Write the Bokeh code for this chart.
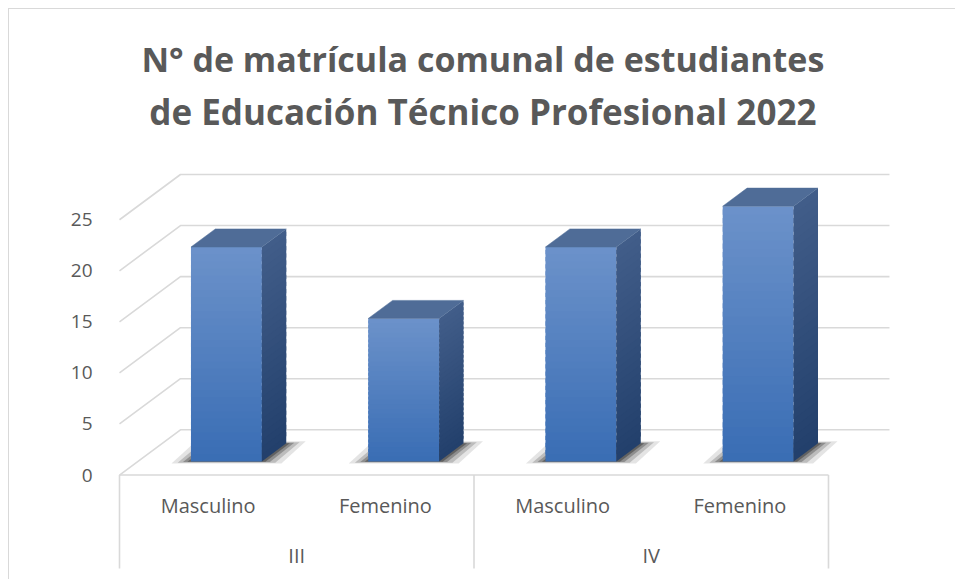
from bokeh.plotting import figure
from bokeh.models import FixedTicker
from bokeh.core.properties import value
from bokeh.embed import file_html
from bokeh.resources import INLINE

# ---------------- data ----------------
title_lines = ["N° de matrícula comunal de estudiantes",
               "de Educación Técnico Profesional 2022"]
groups = ["III", "IV"]
genders = ["Masculino", "Femenino", "Masculino", "Femenino"]
counts = [21, 14, 21, 25]
y_ticks = [0, 5, 10, 15, 20, 25]

# ---------------- style / geometry ----------------
FONT = "Open Sans"
TXT = "#595959"
GRID = "#d9d9d9"
DX, DY = 0.344, 4.43        # depth offset of the back wall (x in categories, y in values)
D0, D1 = 0.30, 0.70         # bar depth span (fraction of floor depth)
BAR_W = 0.40
N_STRIPS = 30

def lerp(c1, c2, t):
    return "#%02x%02x%02x" % tuple(int(round(a + (b - a) * t)) for a, b in zip(c1, c2))

FRONT_TOP, FRONT_BOT = (108, 146, 202), (57, 109, 180)
SIDE_TOP, SIDE_BOT = (66, 94, 138), (34, 63, 107)
TOP_FACE = "#4f6c97"

n_cat = len(counts)
p = figure(width=947, height=571, output_backend="svg", toolbar_location=None,
           x_range=(-0.0508, 4.4006), y_range=(-10.33, 45.59),
           x_axis_location=None, min_border_left=101, min_border_right=57,
           min_border_top=0, min_border_bottom=0)
p.outline_line_color = None
p.grid.visible = False
p.title.visible = False
p.background_fill_color = "white"
p.border_fill_color = "white"
p.styles = {"margin-left": "8px", "margin-top": "8px",
            "border-left": "1px solid #d9d9d9", "border-top": "1px solid #d9d9d9"}

# chart title (two centred lines above the plot area)
p.text(x=[2.05, 2.05], y=[40.7, 35.6], text=title_lines,
       text_font=value(FONT), text_font_size=["34px", "35px"], text_font_style="bold",
       text_color=TXT, text_align="center", text_baseline="middle")

# y axis
ax = p.yaxis[0]
ax.ticker = FixedTicker(ticks=y_ticks)
ax.axis_line_color = None
ax.major_tick_line_color = None
ax.minor_tick_line_color = None
ax.major_label_text_font = FONT
ax.major_label_text_font_size = "19px"
ax.major_label_text_color = TXT
ax.major_label_standoff = 12

# gridlines: diagonal on the side wall + horizontal on the back wall
gx, gy = [], []
for v in y_ticks:
    gx.append([0, DX, n_cat + DX])
    gy.append([v, v + DY, v + DY])
p.multi_line(gx, gy, line_color=GRID, line_width=1.6)

# category table lines
TABLE_BOTTOM = -9.16
p.line([0, n_cat], [0, 0], line_color=GRID, line_width=1.6)
seps = [0] + [2 * (k + 1) for k in range(len(groups))]
p.segment(x0=seps, y0=[0] * len(seps), x1=seps, y1=[TABLE_BOTTOM] * len(seps),
          line_color=GRID, line_width=1.6)

# bars
ddx, ddy = (D1 - D0) * DX, (D1 - D0) * DY
for i, v in enumerate(counts):
    xc = i + 0.5 + D0 * DX
    x0, x1 = xc - BAR_W / 2, xc + BAR_W / 2
    yb = D0 * DY
    yt = yb + v
    # soft shadow on the floor
    for e, ey, a in [(0.11, 0.2, 0.12), (0.075, 0.12, 0.2), (0.045, 0.06, 0.3), (0.02, 0.02, 0.4)]:
        p.patch([x0 - e, x1 + e, x1 + ddx + e, x0 + ddx - e],
                [yb - ey, yb - ey, yb + ddy + ey, yb + ddy + ey],
                fill_color="#202020", fill_alpha=a, line_color=None)
    h = v / N_STRIPS
    # front face (vertical gradient, overlapping strips)
    qb, qt, qc = [], [], []
    for k in range(N_STRIPS):
        qb.append(yb + h * k)
        qt.append(min(yt, yb + h * (k + 1.6)))
        qc.append(lerp(FRONT_BOT, FRONT_TOP, (k + 0.5) / N_STRIPS))
    p.quad(left=x0, right=x1, bottom=qb, top=qt, fill_color=qc, line_color=None)
    # side face
    sx, sy, sc = [], [], []
    for k in range(N_STRIPS):
        a0 = yb + h * k
        a1 = min(yt, yb + h * (k + 1.6))
        sx.append([x1, x1 + ddx, x1 + ddx, x1])
        sy.append([a0, a0 + ddy, a1 + ddy, a1])
        sc.append(lerp(SIDE_BOT, SIDE_TOP, (k + 0.5) / N_STRIPS))
    p.patches(sx, sy, fill_color=sc, line_color=None)
    # top face
    p.patch([x0, x1, x1 + ddx, x0 + ddx], [yt, yt, yt + ddy, yt + ddy],
            fill_color=TOP_FACE, line_color=TOP_FACE, line_width=0.5)

# category labels
p.text(x=[i + 0.5 for i in range(n_cat)], y=[-3.0] * n_cat, text=genders,
       text_font=value(FONT), text_font_size="20px", text_color=TXT,
       text_align="center", text_baseline="middle")
p.text(x=[2 * k + 1 for k in range(len(groups))], y=[-7.9] * len(groups), text=groups,
       text_font=value(FONT), text_font_size="20px", text_color=TXT,
       text_align="center", text_baseline="middle")

open("out.html", "w").write(file_html(p, INLINE))
